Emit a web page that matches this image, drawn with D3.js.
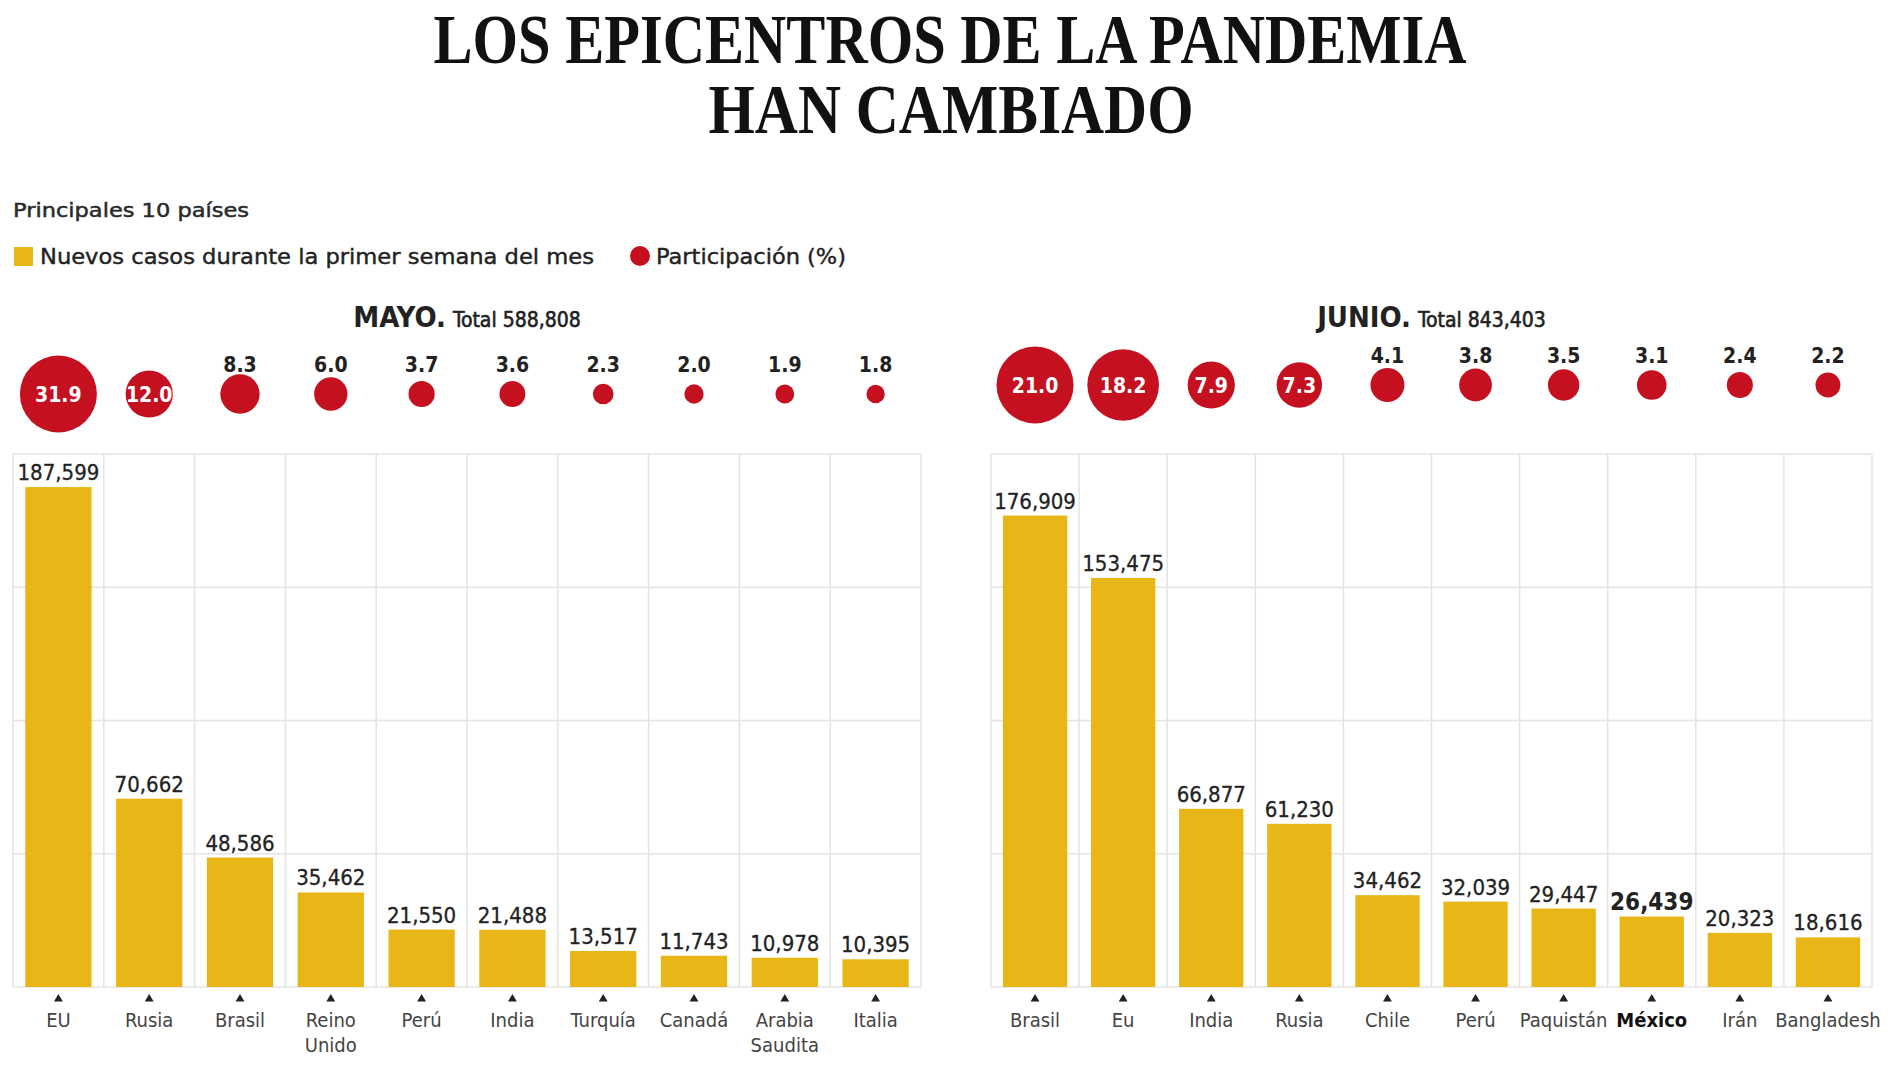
<!DOCTYPE html>
<html><head><meta charset="utf-8">
<script src="https://cdn.jsdelivr.net/npm/d3@7"></script>
<style>
html,body{margin:0;padding:0;background:#fff;}
svg{display:block;}
</style></head>
<body>
<svg id="chart" width="1900" height="1068"></svg>
<script>
const titleLines = ["LOS EPICENTROS DE LA PANDEMIA", "HAN CAMBIADO"];
const subtitle = "Principales 10 países";
const legendCases = "Nuevos casos durante la primer semana del mes";
const legendShare = "Participación (%)";

const mayoCountries = ["EU","Rusia","Brasil","Reino Unido","Perú","India","Turquía","Canadá","Arabia Saudita","Italia"];
const mayoCases = [187599,70662,48586,35462,21550,21488,13517,11743,10978,10395];
const mayoShare = [31.9,12.0,8.3,6.0,3.7,3.6,2.3,2.0,1.9,1.8];
const mayoTotal = 588808;

const junioCountries = ["Brasil","Eu","India","Rusia","Chile","Perú","Paquistán","México","Irán","Bangladesh"];
const junioCases = [176909,153475,66877,61230,34462,32039,29447,26439,20323,18616];
const junioShare = [21.0,18.2,7.9,7.3,4.1,3.8,3.5,3.1,2.4,2.2];
const junioTotal = 843403;

const yTicks = [0,50000,100000,150000,200000];

const YELLOW = "#E8B717", RED = "#C4101F", TXT = "#222";
const svg = d3.select("#chart");
const fmt = d3.format(",");

// Title
svg.append("text").attr("x",950).attr("y",63).attr("text-anchor","middle")
  .attr("font-family","Liberation Serif").attr("font-weight","bold").attr("font-size",70)
  .attr("textLength",1033).attr("lengthAdjust","spacingAndGlyphs").attr("fill","#111").text(titleLines[0]);
svg.append("text").attr("x",951).attr("y",133).attr("text-anchor","middle")
  .attr("font-family","Liberation Serif").attr("font-weight","bold").attr("font-size",70)
  .attr("textLength",485).attr("lengthAdjust","spacingAndGlyphs").attr("fill","#111").text(titleLines[1]);

// Subtitle & legend
svg.append("text").attr("x",13).attr("y",217).attr("font-family","DejaVu Sans").attr("font-size",20)
  .attr("fill","#2a2a2a").attr("stroke","#2a2a2a").attr("stroke-width",0.5)
  .attr("textLength",236).attr("lengthAdjust","spacingAndGlyphs").text(subtitle);
svg.append("rect").attr("x",14).attr("y",247).attr("width",19).attr("height",19).attr("fill",YELLOW);
svg.append("text").attr("x",40).attr("y",264).attr("font-family","DejaVu Sans").attr("font-size",21)
  .attr("fill",TXT).attr("stroke",TXT).attr("stroke-width",0.4)
  .attr("textLength",554).attr("lengthAdjust","spacingAndGlyphs").text(legendCases);
svg.append("circle").attr("cx",640).attr("cy",256).attr("r",10).attr("fill",RED);
svg.append("text").attr("x",656).attr("y",264).attr("font-family","DejaVu Sans").attr("font-size",21)
  .attr("fill",TXT).attr("stroke",TXT).attr("stroke-width",0.4)
  .attr("textLength",190).attr("lengthAdjust","spacingAndGlyphs").text(legendShare);

function panel(cfg){
  const {x0,x1,top,base,countries,cases,share,month,total,bubbleY,labelY} = cfg;
  const g = svg.append("g");
  const x = d3.scaleBand().domain(countries).range([x0,x1]).paddingInner(0.27).paddingOuter(0.135);
  const y = d3.scaleLinear().domain([0,200000]).range([base,top]);
  const r = d3.scaleSqrt().domain([0,d3.max(share)]).range([0,38.5]);
  const colX = d3.range(countries.length+1).map(i=>x0+i*((x1-x0)/countries.length));

  // grid
  g.append("g").selectAll("line").data(yTicks).join("line")
    .attr("x1",x0).attr("x2",x1).attr("y1",d=>y(d)).attr("y2",d=>y(d))
    .attr("stroke","#e4e4e4").attr("stroke-width",1.5);
  g.append("g").selectAll("line").data(colX).join("line")
    .attr("x1",d=>d).attr("x2",d=>d).attr("y1",top).attr("y2",base)
    .attr("stroke","#e4e4e4").attr("stroke-width",1.5);

  // bars
  g.append("g").selectAll("rect").data(countries).join("rect")
    .attr("x",d=>x(d)).attr("width",x.bandwidth())
    .attr("y",(d,i)=>y(cases[i])).attr("height",(d,i)=>base-y(cases[i]))
    .attr("fill",YELLOW);

  // value labels
  g.append("g").selectAll("text").data(countries).join("text")
    .attr("x",d=>x(d)+x.bandwidth()/2).attr("y",(d,i)=>y(cases[i])-7)
    .attr("text-anchor","middle").attr("font-family","DejaVu Sans Condensed")
    .attr("font-size",d=>d==="México"?24:22).attr("font-weight",d=>d==="México"?"bold":"normal")
    .attr("fill",TXT).attr("stroke",TXT).attr("stroke-width",d=>d==="México"?0:0.3)
    .text((d,i)=>fmt(cases[i]));

  // triangles
  g.append("g").selectAll("path").data(countries).join("path")
    .attr("transform",d=>`translate(${x(d)+x.bandwidth()/2},999)`)
    .attr("d",d3.symbol(d3.symbolTriangle,34)()).attr("fill","#222");

  // category labels
  const cl = g.append("g").selectAll("text").data(countries).join("text")
    .attr("text-anchor","middle").attr("font-family","DejaVu Sans Condensed")
    .attr("font-size",20).attr("font-weight",d=>d==="México"?"bold":"normal")
    .attr("fill",d=>d==="México"?"#111":"#444");
  cl.each(function(d){
    const t = d3.select(this);
    d.split(" ").forEach((w,k)=>{
      t.append("tspan").attr("x",x(d)+x.bandwidth()/2).attr("y",1027+k*25).text(w);
    });
  });

  // month title
  const mt = g.append("text").attr("x",(x0+x1)/2).attr("y",327).attr("text-anchor","middle")
    .attr("font-family","DejaVu Sans Condensed").attr("fill",TXT);
  mt.append("tspan").attr("font-size",29).attr("font-weight","bold").text(month+".");
  mt.append("tspan").attr("font-size",21).attr("font-weight","normal").attr("stroke",TXT).attr("stroke-width",0.6)
    .attr("dx",7).text("Total "+fmt(total));

  // bubbles
  g.append("g").selectAll("circle").data(countries).join("circle")
    .attr("cx",d=>x(d)+x.bandwidth()/2).attr("cy",bubbleY)
    .attr("r",(d,i)=>r(share[i])).attr("fill",RED);
  g.append("g").selectAll("text").data(countries).join("text")
    .attr("x",d=>x(d)+x.bandwidth()/2)
    .attr("y",(d,i)=>r(share[i])>21 ? bubbleY+7.5 : labelY)
    .attr("text-anchor","middle").attr("font-family","DejaVu Sans Condensed").attr("font-weight","bold")
    .attr("font-size",21).attr("fill",(d,i)=>r(share[i])>21?"#fff":TXT)
    .text((d,i)=>share[i].toFixed(1));
}

panel({x0:13,x1:921,top:454,base:987,countries:mayoCountries,cases:mayoCases,share:mayoShare,
  month:"MAYO",total:mayoTotal,bubbleY:394,labelY:372});
panel({x0:991,x1:1872,top:454,base:987,countries:junioCountries,cases:junioCases,share:junioShare,
  month:"JUNIO",total:junioTotal,bubbleY:385,labelY:363});
</script>
</body></html>
